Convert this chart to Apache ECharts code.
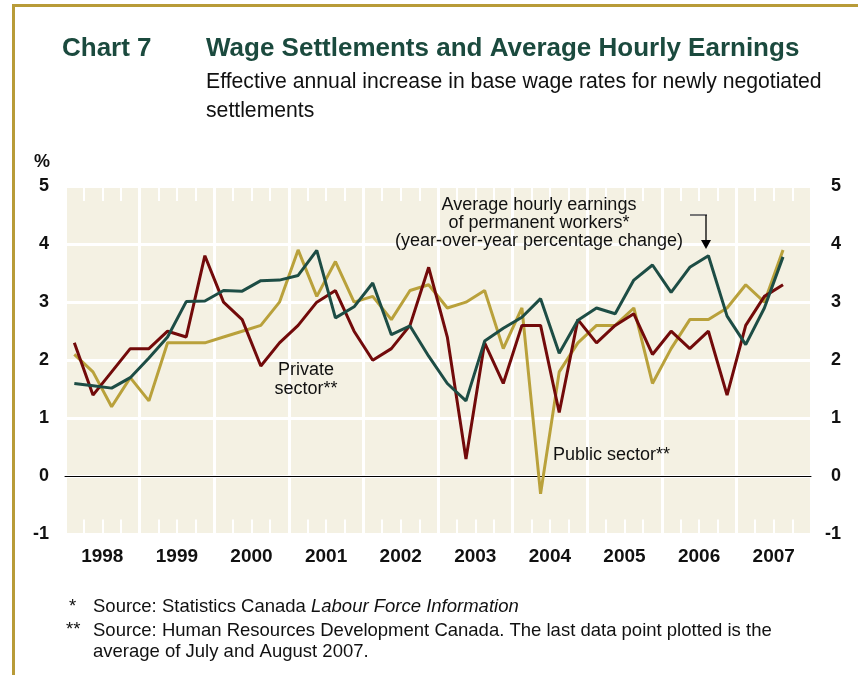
<!DOCTYPE html>
<html>
<head>
<meta charset="utf-8">
<script src="https://cdn.jsdelivr.net/npm/echarts@6/dist/echarts.min.js"></script>
<style>
  html, body { margin: 0; padding: 0; background: #fff; }
  #chart { width: 858px; height: 675px; }
</style>
</head>
<body>
<div id="chart"></div>
<script>
// chart values, one point per quarter, 1998Q1 .. 2007Q3
const years = ["1998", "1999", "2000", "2001", "2002", "2003", "2004", "2005", "2006", "2007"];
const quarters = [];
years.forEach(y => { for (let q = 1; q <= 4; q++) quarters.push(y + "Q" + q); });

const privateSector = [2.3, 1.4, 1.8, 2.2, 2.2, 2.5, 2.4, 3.8, 3.0, 2.7,
  1.9, 2.3, 2.6, 3.0, 3.2, 2.5, 2.0, 2.2, 2.6, 3.6,
  2.4, 0.3, 2.3, 1.6, 2.6, 2.6, 1.1, 2.7, 2.3, 2.6,
  2.8, 2.1, 2.5, 2.2, 2.5, 1.4, 2.6, 3.1, 3.3];
const publicSector = [2.1, 1.8, 1.2, 1.7, 1.3, 2.3, 2.3, 2.3, 2.4, 2.5,
  2.6, 3.0, 3.9, 3.1, 3.7, 3.0, 3.1, 2.7, 3.2, 3.3,
  2.9, 3.0, 3.2, 2.2, 2.9, -0.3, 1.8, 2.3, 2.6, 2.6,
  2.9, 1.6, 2.2, 2.7, 2.7, 2.9, 3.3, 3.0, 3.9];
const hourlyEarnings = [1.6, 1.56, 1.52, 1.7, 2.04, 2.4, 3.01, 3.02, 3.2, 3.19,
  3.37, 3.38, 3.46, 3.89, 2.73, 2.92, 3.33, 2.44, 2.59, 2.07,
  1.6, 1.3, 2.33, 2.55, 2.74, 3.06, 2.12, 2.69, 2.9, 2.8,
  3.38, 3.64, 3.17, 3.6, 3.8, 2.76, 2.27, 2.9, 3.78];

const FONT = "'Liberation Sans', Arial, sans-serif";
const tickStyle = { show: true, inside: true, length: 15, interval: 0, lineStyle: { color: "#fff", width: 2 } };

let chart = echarts.init(document.getElementById("chart"));
chart.setOption({
  animation: false,
  textStyle: { fontFamily: FONT },
  grid: {
    left: 65, right: 47, top: 186, bottom: 140.5,
    show: true, backgroundColor: "#f4f1e3", borderWidth: 0
  },
  xAxis: [
    {
      // zero line
      type: "category", data: years, position: "bottom",
      axisLine: { show: true, onZero: true, lineStyle: { color: "#000", width: 1 } },
      axisTick: { show: false }, axisLabel: { show: false }, splitLine: { show: false }
    },
    {
      type: "category", data: quarters, position: "bottom", boundaryGap: true,
      axisLine: { show: false, onZero: false }, axisTick: tickStyle, axisLabel: { show: false }, splitLine: { show: false }
    },
    {
      type: "category", data: quarters, position: "top", boundaryGap: true,
      axisLine: { show: false, onZero: false }, axisTick: tickStyle, axisLabel: { show: false }, splitLine: { show: false }
    },
    {
      type: "category", data: years, position: "bottom", boundaryGap: true,
      axisLine: { show: false, onZero: false }, axisTick: { show: false },
      axisLabel: { margin: 13, fontSize: 19, fontWeight: "bold", color: "#111", fontFamily: FONT },
      splitLine: { show: true, interval: 0, lineStyle: { color: "#fff", width: 3 } }
    }
  ],
  yAxis: [
    {
      type: "value", min: -1, max: 5, interval: 1, position: "left",
      axisLine: { show: false }, axisTick: { show: false },
      axisLabel: { margin: 16, fontSize: 18, fontWeight: "bold", color: "#111", fontFamily: FONT },
      splitLine: { show: true, lineStyle: { color: "#fff", width: 3 } }
    },
    {
      type: "value", min: -1, max: 5, interval: 1, position: "right",
      axisLine: { show: false }, axisTick: { show: false },
      axisLabel: { margin: 30, align: "right", fontSize: 18, fontWeight: "bold", color: "#111", fontFamily: FONT },
      splitLine: { show: false }
    }
  ],
  series: [
    {
      name: "Public sector", type: "line", data: publicSector, xAxisIndex: 1, yAxisIndex: 0,
      symbol: "none", lineStyle: { color: "#b9a13b", width: 3 }
    },
    {
      name: "Private sector", type: "line", data: privateSector, xAxisIndex: 1, yAxisIndex: 0,
      symbol: "none", lineStyle: { color: "#720a0a", width: 3 }
    },
    {
      name: "Average hourly earnings", type: "line", data: hourlyEarnings, xAxisIndex: 1, yAxisIndex: 0,
      symbol: "none", lineStyle: { color: "#1d4d45", width: 3 }
    }
  ],
  graphic: [
    // frame
    { type: "rect", z: 100, shape: { x: 12, y: 4, width: 860, height: 3 }, style: { fill: "#b89b38" } },
    { type: "rect", z: 100, shape: { x: 12, y: 4, width: 3, height: 680 }, style: { fill: "#b89b38" } },
    // titles
    { type: "text", z: 100, left: 62, top: 36, style: { text: "Chart 7", font: "bold 26px " + FONT, fill: "#1b4a3e" } },
    { type: "text", z: 100, left: 206, top: 36, style: { text: "Wage Settlements and Average Hourly Earnings", font: "bold 26px " + FONT, fill: "#1b4a3e" } },
    { type: "text", z: 100, left: 206, top: 72, style: { text: "Effective annual increase in base wage rates for newly negotiated", font: "21.2px " + FONT, fill: "#111" } },
    { type: "text", z: 100, left: 206, top: 101, style: { text: "settlements", font: "21.2px " + FONT, fill: "#111" } },
    { type: "text", z: 100, left: 34, top: 153, style: { text: "%", font: "bold 18px " + FONT, fill: "#111" } },
    // annotations
    {
      type: "text", z: 100, x: 539, y: 196,
      style: {
        text: "Average hourly earnings\nof permanent workers*\n(year-over-year percentage change)",
        font: "18px " + FONT, fill: "#111", align: "center", lineHeight: 18
      }
    },
    { type: "line", z: 100, shape: { x1: 690, y1: 215, x2: 707, y2: 215 }, style: { stroke: "#777", lineWidth: 2 } },
    { type: "line", z: 100, shape: { x1: 706, y1: 215, x2: 706, y2: 242 }, style: { stroke: "#000", lineWidth: 1.3 } },
    { type: "polygon", z: 100, shape: { points: [[701, 240], [711, 240], [706, 249]] }, style: { fill: "#000" } },
    {
      type: "text", z: 100, x: 306, y: 361,
      style: { text: "Private\nsector**", font: "18px " + FONT, fill: "#111", align: "center", lineHeight: 19 }
    },
    { type: "text", z: 100, x: 553, y: 446, style: { text: "Public sector**", font: "18px " + FONT, fill: "#111" } },
    // footnotes
    { type: "text", z: 100, left: 69, top: 597, style: { text: "*", font: "18.5px " + FONT, fill: "#111" } },
    {
      type: "text", z: 100, left: 93, top: 597,
      style: {
        rich: { i: { fontStyle: "italic", fontSize: 18.5, fontFamily: FONT } },
        text: "Source: Statistics Canada {i|Labour Force Information}",
        font: "18.5px " + FONT, fill: "#111"
      }
    },
    { type: "text", z: 100, left: 66, top: 620, style: { text: "**", font: "18.5px " + FONT, fill: "#111" } },
    {
      type: "text", z: 100, left: 93, top: 620,
      style: {
        text: "Source: Human Resources Development Canada. The last data point plotted is the\naverage of July and August 2007.",
        font: "18.5px " + FONT, fill: "#111", lineHeight: 21
      }
    }
  ]
});
</script>
</body>
</html>
